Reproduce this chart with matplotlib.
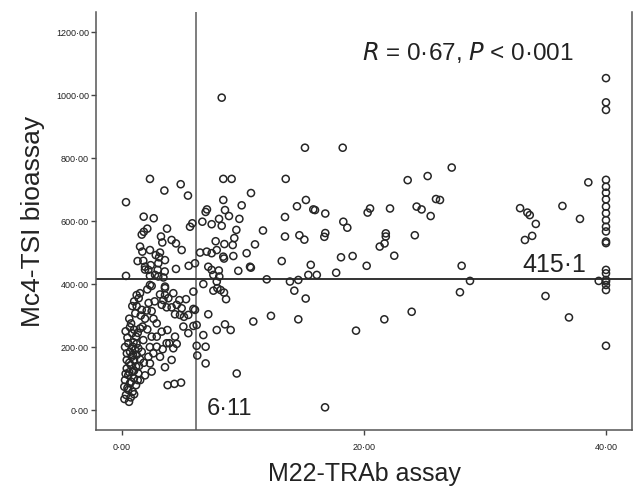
import matplotlib
matplotlib.use("Agg")
import matplotlib.pyplot as plt
from matplotlib.ticker import FuncFormatter
import numpy as np

plt.rcParams['font.family'] = ['Liberation Sans', 'DejaVu Sans']

# ---- data ----
# upper-left quadrant
ul_x = [0.33, 2.31, 4.85, 3.5, 5.45, 1.79, 2.62, 5.62, 5.81, 2.09, 1.63, 1.8, 3.72, 3.22, 3.33,
        4.1, 4.46, 1.49, 1.68, 2.31, 2.79, 3.14, 3.06, 4.93, 1.29, 1.76, 1.9, 2.37, 2.18, 2.95,
        3.0, 3.53, 4.46, 5.51, 6.03, 2.73, 3.42, 0.33, 2.31, 3.0, 1.9, 3.55]
ul_y = [660, 734, 717, 697, 681, 614, 609, 582, 593, 576, 557, 566, 576, 551, 532,
        540, 529, 519, 503, 508, 492, 500, 485, 508, 473, 474, 455, 460, 445, 445,
        466, 440, 448, 458, 466, 429, 421, 426, 426, 424, 446, 476]

# lower-left quadrant (dense cluster)
ll_x = [2.45, 2.09, 1.49, 1.38, 1.21, 1.1, 1.63, 2.04, 2.45, 3.14, 3.42, 3.28, 3.69, 4.1, 4.52,
        4.93, 5.29, 4.74, 4.38, 4.79, 5.12, 5.48, 6.03, 4.24, 3.83, 3.55, 0.66, 0.83, 1.16, 1.49,
        2.09, 2.45, 2.87, 2.87, 3.28, 3.75, 3.91, 4.38, 5.07, 5.48, 5.9, 6.17, 5.9, 5.9, 3.55,
        3.55, 1.21, 2.31,
        0.52, 0.88, 0.66, 1.07, 1.35, 1.63, 1.21, 0.8, 0.39, 0.99, 1.49, 0.72, 1.16, 0.39, 0.88,
        1.35, 0.52, 0.99, 0.25, 0.66, 1.16, 0.19, 0.52, 0.88, 0.33, 0.72, 0.58, 1.76, 2.18, 2.59,
        2.87, 3.36, 3.69, 4.24, 2.31, 2.45, 3.14, 3.55, 4.1, 4.52, 3.77, 4.33, 4.88,
        0.3, 0.45, 0.6, 0.75, 1.0, 1.3, 0.95, 1.2, 0.4, 0.6, 1.0, 0.3, 0.75, 1.3, 0.45,
        1.0, 0.2, 0.6, 0.9, 1.4, 0.25, 1.7, 1.9, 1.55, 0.85, 1.0, 2.2, 2.7, 2.6, 2.3,
        1.8, 1.9, 1.5]
ll_y = [394, 383, 371, 355, 330, 307, 318, 316, 314, 367, 349, 334, 326, 326, 334,
        323, 352, 349, 304, 302, 296, 302, 318, 371, 355, 387, 263, 244, 233, 259,
        256, 233, 275, 233, 249, 254, 212, 233, 265, 244, 267, 270, 321, 376, 392,
        365, 365, 397,
        212, 201, 185, 191, 196, 185, 175, 169, 159, 159, 161, 143, 138, 132, 122,
        116, 111, 101, 95, 85, 79, 74, 64, 58, 48, 40, 26, 222, 169, 180,
        201, 193, 212, 196, 148, 122, 169, 136, 159, 210, 79, 83, 87,
        250, 230, 290, 275, 255, 245, 215, 210, 180, 150, 125, 115, 90, 95, 70,
        50, 35, 120, 175, 140, 200, 265, 290, 300, 330, 345, 340, 345, 290, 200,
        150, 110, 95]

# middle band (6 < x < 20)
mid_x = [8.24, 15.12, 18.24, 8.37, 9.06, 13.53, 10.66, 8.37, 15.2, 14.46, 9.89, 8.51, 7.02, 6.91,
         15.81, 15.95, 16.8, 8.84, 9.7, 13.47, 18.29, 18.62, 6.64, 7.41, 8.02, 8.24, 9.45, 11.65,
         13.47, 14.66, 15.07, 16.8, 16.72, 7.74, 8.46, 9.28, 10.99, 9.15,
         6.45, 7.0, 7.41, 7.83, 8.37, 8.43, 7.41, 7.55, 8.04, 7.83, 6.72, 7.55, 7.88, 8.15, 8.43,
         8.6, 7.13, 8.0, 9.61, 10.3, 10.58, 10.65, 13.2, 11.96, 13.88, 14.24, 15.18, 14.57, 15.4,
         16.1, 15.6, 17.7, 18.1, 19.06, 14.57, 12.31, 10.85, 19.34, 16.78, 9.48, 6.91, 6.17, 6.22,
         6.91, 6.72, 7.13, 7.83, 8.51, 8.98, 9.2]
mid_y = [992, 833, 833, 734, 734, 734, 689, 667, 667, 647, 650, 635, 637, 629,
         637, 635, 624, 616, 607, 613, 598, 579, 598, 590, 607, 585, 572, 570,
         551, 555, 541, 562, 550, 536, 527, 546, 526, 524,
         500, 503, 498, 508, 487, 481, 445, 429, 424, 408, 400, 379, 387, 381, 373,
         352, 455, 443, 442, 498, 455, 452, 473, 415, 408, 379, 354, 413, 429,
         429, 461, 436, 485, 489, 288, 299, 281, 252, 8.5, 116, 148, 204, 173,
         201, 238, 304, 254, 272, 254, 489]

# high range (x > 20)
hi_x = [27.25, 23.61, 25.26, 38.54, 25.95, 26.28, 24.35, 24.76, 25.51, 22.15, 20.5, 20.3, 32.9,
        33.5, 33.7, 34.2, 36.4, 37.85, 21.8, 21.8, 24.2, 33.3, 33.9, 21.3, 21.7, 20.22, 22.5,
        28.07, 28.76, 27.93, 35.0, 36.94, 23.94, 21.68, 39.4]
hi_y = [770, 730, 743, 723, 670, 667, 646, 637, 616, 640, 640, 627, 641,
        627, 619, 591, 648, 607, 561, 551, 555, 540, 553, 519, 529, 458, 490,
        458, 410, 374, 362, 294, 312, 288, 410]

# samples at the assay ceiling (x = 40)
cap_y = [1054, 977, 953, 731, 709, 690, 669, 646, 625, 603, 582, 567, 535, 530,
         445, 434, 413, 408, 397, 381, 204]
cap_x = [40.0] * len(cap_y)

x_cut = 6.11
y_cut = 415.1
x_ticks = [0, 20, 40]
y_ticks = [0, 200, 400, 600, 800, 1000, 1200]

x_all = np.array(ul_x + ll_x + mid_x + hi_x + cap_x)
y_all = np.array(ul_y + ll_y + mid_y + hi_y + cap_y)

# ---- figure ----
fig = plt.figure(figsize=(6.33, 4.86), dpi=100)
ax = fig.add_axes([96 / 633, 56 / 486, 536 / 633, 418 / 486])

ax.scatter(x_all, y_all, s=26, facecolors='none', edgecolors='#262626', linewidths=1.1, zorder=3)
ax.axvline(x_cut, color='#5a5a5a', lw=1.1, zorder=2)
ax.axhline(y_cut, color='#333333', lw=1.4, zorder=2)

ax.set_xlim(-2.15, 42.15)
ax.set_ylim(-63.5, 1264)

fmt = FuncFormatter(lambda v, p: f"{v:.2f}".replace('.', '\u00b7'))
ax.set_xticks(x_ticks)
ax.set_yticks(y_ticks)
ax.xaxis.set_major_formatter(fmt)
ax.yaxis.set_major_formatter(fmt)
ax.tick_params(axis='both', direction='out', length=3.5, width=1.0, color='#444444',
               labelsize=6.5, labelcolor='#222222')
ax.tick_params(axis='y', pad=1.5)
ax.tick_params(axis='x', pad=6)

for side in ['left', 'right', 'bottom']:
    ax.spines[side].set_color('#555555')
    ax.spines[side].set_linewidth(1.1)
ax.spines['top'].set_visible(False)

ax.set_xlabel('M22-TRAb assay', fontsize=18, color='#222222', labelpad=7)
ax.set_ylabel('Mc4-TSI bioassay', fontsize=19, color='#222222', labelpad=8)

ax.text(19.8, 1112, r'$R$ = 0·67, $P$ < 0·001', fontsize=17.5, color='#222222')
ax.text(7.0, -16, '6·11', fontsize=17, color='#222222')
ax.text(33.1, 438, '415·1', fontsize=18, color='#222222')

fig.savefig('out.png', dpi=100)
